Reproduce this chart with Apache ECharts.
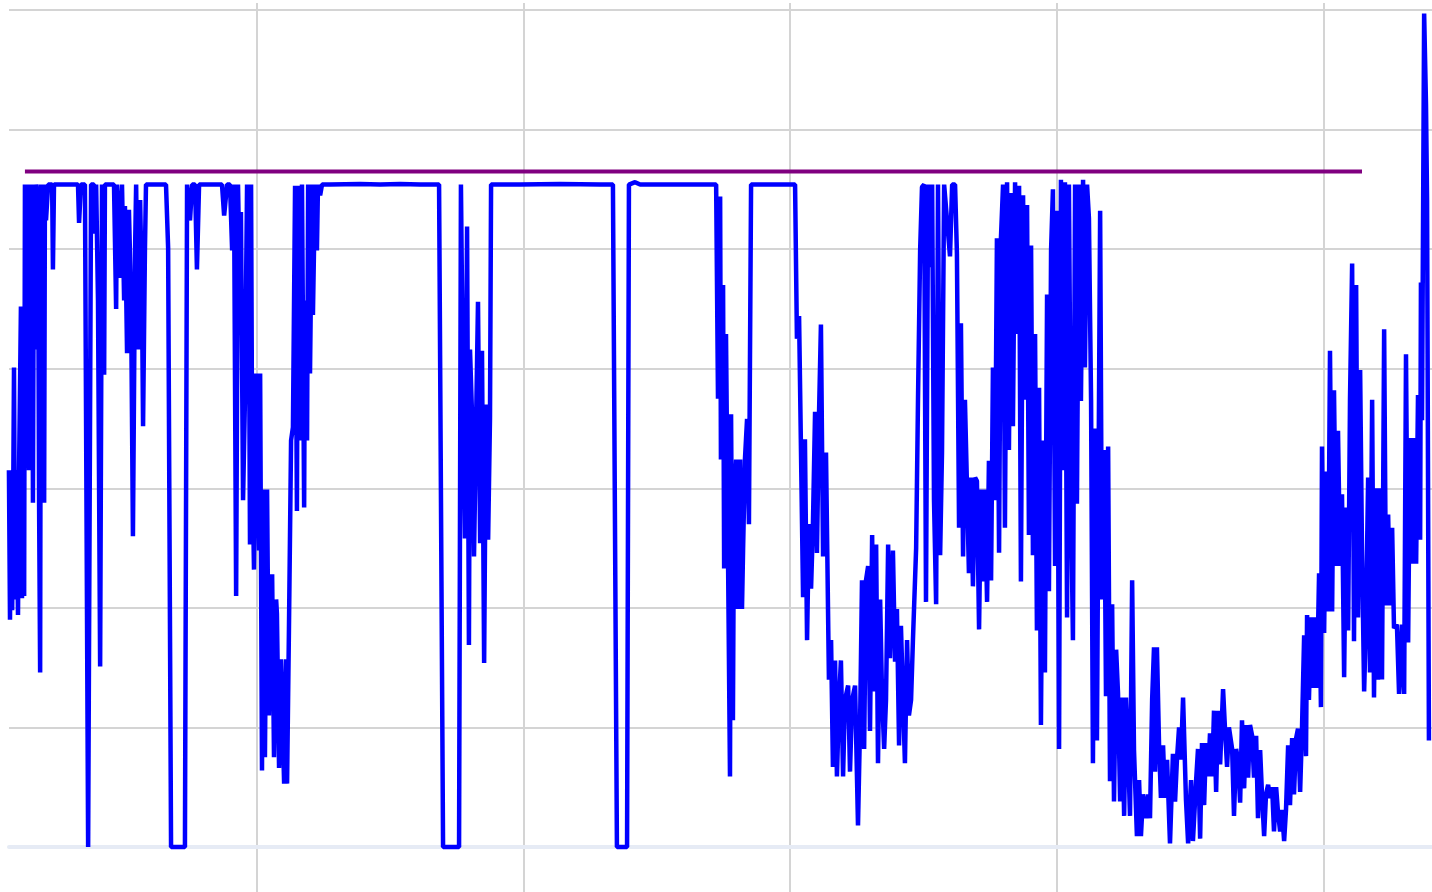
<!DOCTYPE html>
<html>
<head>
<meta charset="utf-8">
<script src="https://cdn.jsdelivr.net/npm/echarts@6/dist/echarts.min.js"></script>
<style>
html,body{margin:0;padding:0;background:#ffffff;}
#chart{width:1432px;height:892px;}
</style>
</head>
<body>
<div id="chart"></div>
<script>
// Axis scales (data units)
var yTicks = {min: 0, max: 70, interval: 10};
var xRange = {min: 3.75, max: 540.75, step: 100};
var xDataMin = 7.125;

// Threshold level (purple line)
var thresholdX = [13.1, 514.5];
var thresholdY = 56.5;

// Signal as [x, y] pairs, split by x range
var signalA = [[7.1,31.5],[7.5,19.0],[7.9,31.5],[8.3,19.8],[8.6,25.7],[9.0,40.1],[9.4,20.7],[9.8,31.5],[10.1,26.3],[10.5,19.4],[10.9,31.5],[11.6,45.2],[12.0,20.8],[12.4,35.7],[12.8,21.0],[13.1,55.4],[13.5,44.9],[13.9,31.7],[14.3,55.4],[14.6,31.5],[15.0,55.4],[15.4,43.2],[15.8,55.4],[16.1,28.8],[16.5,55.4],[16.9,41.6],[17.3,55.4],[18.0,54.1],[18.4,29.0],[18.8,14.6],[19.1,55.4],[19.5,45.7],[19.9,55.4],[20.3,28.8],[20.6,55.4],[21.0,52.4],[21.8,55.4],[23.3,55.4],[23.6,48.3],[24.0,55.4],[33.0,55.4],[33.4,52.2],[34.1,55.4],[35.6,55.4],[36.8,0],[37.9,55.4],[39.0,55.4],[39.4,51.3],[39.8,55.4],[40.5,45.7],[41.3,15.1],[42.0,55.4],[42.8,39.5],[43.1,55.4],[46.5,55.4],[47.3,45.0],[47.6,55.4],[48.4,52.4],[48.8,47.6],[49.5,55.4],[50.3,45.7],[50.6,53.6],[51.4,41.3],[52.1,53.3],[52.9,45.7],[53.6,26.0],[54.4,49.9],[54.8,55.4],[55.5,41.6],[56.3,54.1],[57.0,45.7],[57.4,35.2],[58.1,49.9],[58.5,55.4],[66.0,55.4],[66.8,50.1],[67.9,0],[73.1,0],[73.9,55.4],[75.0,52.4],[75.8,55.4],[76.9,55.4],[77.6,48.3],[78.4,55.4],[87.0,55.4],[87.8,52.8],[88.9,55.4],[90.0,55.4],[90.8,49.9],[91.5,55.4],[92.3,21.0],[93.0,55.4],[93.8,45.7],[94.1,53.1],[94.9,29.0],[95.6,37.4],[96.4,55.4],[97.1,45.7],[97.5,25.3],[97.9,55.4],[98.3,33.0],[99.0,23.2],[99.8,39.6]];

var signalB = [[100.1,36.8],[100.9,24.8],[101.3,39.6],[102.0,6.4],[102.4,29.9],[103.1,7.5],[103.9,29.9],[104.6,11.0],[105.4,20.7],[105.8,22.8],[106.5,7.5],[107.3,20.7],[107.6,19.5],[108.4,6.6],[109.1,15.7],[109.5,12.3],[110.3,5.3],[111.0,15.7],[111.4,5.3],[112.1,18.1],[112.9,34.0],[113.6,35.1],[114.4,55.3],[115.1,28.1],[115.5,55.3],[116.3,34.0],[117.0,55.4],[117.8,28.4],[118.1,45.7],[118.9,34.0],[119.3,55.4],[120.0,39.6],[120.8,55.4],[121.1,44.5],[121.9,55.4],[122.6,49.9],[123.0,55.4],[123.8,54.5],[124.5,55.4],[127.5,55.4],[138.8,55.45],[146.3,55.4],[153.8,55.45],[161.3,55.4],[168.4,55.4],[169.9,0],[175.9,0],[176.6,55.4],[177.4,37.4],[178.1,25.8],[178.9,51.9],[179.6,16.9],[180.0,41.6],[180.8,35.9],[181.5,24.3],[182.3,35.7],[183.0,45.6],[183.8,25.4],[184.5,41.5],[185.3,15.4],[186.0,37.0],[186.8,25.7],[187.5,35.9],[187.9,55.4],[198.8,55.4]];

var signalC = [[213.8,55.45],[228.8,55.4],[233.6,55.4],[235.1,0],[238.9,0],[239.6,55.4],[241.9,55.6],[243.8,55.4],[258.8,55.4],[272.3,55.4],[273.0,37.5],[273.8,54.4],[274.1,32.4],[274.9,47.0],[275.3,23.3],[276.0,42.9],[276.4,33.2],[277.5,5.9],[277.9,36.2],[278.6,10.6],[279.0,29.0],[279.8,32.4],[280.5,19.9],[281.3,32.4],[282.0,19.9],[282.4,24.8],[283.1,32.4],[283.9,35.8],[284.6,27.0],[285.4,55.4],[292.5,55.4]];

var signalD = [[301.9,55.4],[302.6,42.5],[303.4,44.4],[304.9,20.9],[305.6,34.1],[306.4,17.3],[307.1,27.0],[307.9,21.6],[308.6,27.0],[309.4,36.4],[310.1,24.6],[310.9,36.4],[311.6,43.7],[312.4,24.3],[313.5,33.0],[314.6,14.0],[315.4,17.3],[316.1,6.7],[316.9,15.6],[317.6,5.9],[318.4,12.3],[319.1,15.6],[319.9,5.9],[320.6,12.3],[321.8,13.5],[322.5,6.3],[323.3,12.3],[324.4,13.5],[325.5,1.8],[326.3,10.6],[327.0,22.3],[327.8,8.2],[328.5,22.3],[329.3,23.5],[330.0,9.7],[330.8,26.1],[331.5,13.0],[332.3,25.3],[333.0,7.0],[333.8,20.7],[334.5,12.9],[335.3,8.2],[336.0,12.3],[336.8,25.3],[337.5,15.8],[338.6,24.8],[339.4,15.5],[340.1,19.9],[340.9,8.5],[341.6,18.5],[342.4,12.3],[343.1,7.0],[343.9,17.3],[344.6,11.0],[345.4,12.3],[346.1,17.3],[347.3,25.0],[348.0,37.4],[348.8,49.9],[349.5,55.2],[350.3,55.4],[351.0,20.5],[351.8,55.4],[352.5,48.5],[353.3,55.4],[354.0,29.0],[354.8,20.3],[355.5,55.4],[356.3,24.4],[357.0,33.0],[357.8,55.4],[358.5,55.4],[360.0,49.4],[360.8,55.4],[361.9,55.4],[362.6,49.6],[363.4,26.7],[364.1,43.8],[364.9,24.3],[365.6,37.4],[366.4,29.9],[367.1,22.9],[367.9,30.9],[368.6,21.8],[369.4,30.9],[370.1,30.6],[370.9,18.2],[371.6,29.9],[372.4,22.2],[373.1,29.9],[373.9,20.5],[374.6,32.3],[375.4,22.3],[376.1,40.1],[376.9,29.0],[377.6,50.9],[378.4,24.6],[379.1,50.9],[379.9,55.4],[380.6,26.7],[381.4,55.6],[382.1,33.2],[382.9,54.7],[383.6,35.2],[384.4,55.6],[385.1,42.9],[385.9,55.3],[386.6,22.2],[387.4,54.5],[388.1,37.4],[388.9,53.7],[389.6,26.1],[390.4,50.3],[391.1,24.4],[391.9,42.9],[392.6,18.1],[393.4,38.4],[394.1,10.2],[394.9,34.0],[395.6,14.6],[396.4,46.2],[397.1,21.4],[397.9,49.9],[398.6,55.0],[399.4,23.5]];

var signalE = [[400.1,53.2],[400.9,8.2],[401.6,55.8],[402.4,31.5],[403.1,55.6],[403.9,19.2],[404.6,55.4],[405.4,29.0],[406.1,17.3],[406.9,55.4],[407.6,28.7],[408.4,55.4],[409.1,37.3],[409.9,55.8],[410.6,40.1],[411.4,55.4],[412.1,52.6],[412.9,37.4],[413.6,7.0],[414.4,35.0],[415.1,8.9],[416.3,53.2],[417.0,20.7],[417.8,33.2],[418.5,12.6],[419.3,33.5],[420.0,5.5],[420.8,20.3],[421.5,3.8],[422.3,16.5],[423.0,12.9],[423.8,3.8],[424.5,12.5],[425.3,2.6],[426.0,12.5],[426.8,7.8],[427.5,2.6],[428.3,22.3],[429.0,8.1],[430.1,0.9],[430.9,5.6],[431.6,0.9],[432.4,4.4],[433.5,2.4],[434.3,4.4],[435.0,2.4],[435.8,12.3],[436.5,16.7],[436.9,6.3],[437.6,16.7],[438.4,8.5],[439.1,4.1],[439.9,8.5],[440.6,4.1],[441.4,7.3],[442.5,0.3],[443.6,7.8],[444.4,3.8],[445.1,7.3],[445.9,10.0],[446.6,7.3],[447.4,12.5],[448.5,3.9],[449.3,0.3],[450.4,5.6],[451.1,0.5],[452.3,5.6],[453.0,8.2],[453.8,0.7],[454.5,8.7],[455.3,3.5],[456.0,8.7],[456.8,5.9],[457.5,9.5],[458.3,5.9],[459.0,11.4],[459.8,4.6],[460.5,11.4],[461.3,6.9],[462.4,13.2],[463.1,10.0],[463.9,6.7],[464.6,10.0],[465.8,8.2],[466.5,2.6],[467.3,8.2],[468.0,7.3],[468.8,3.7],[469.5,10.6],[470.3,4.9],[471.0,10.2],[471.8,5.8],[472.5,10.2],[473.3,9.3],[474.0,5.8],[474.8,9.3],[475.5,2.4],[476.3,8.1],[477.0,4.4],[477.8,0.9],[478.5,4.4],[479.3,5.2],[480.0,4.1],[480.8,5.0],[481.5,1.3],[482.3,5.0],[483.0,2.9],[483.8,1.3],[484.5,3.1],[485.3,0.5],[486.0,3.1],[486.8,8.5],[487.5,3.5],[488.3,9.1],[489.0,4.4],[489.8,9.1],[490.5,9.9],[491.3,4.6],[492.0,9.9],[492.8,17.7],[493.5,7.6],[493.9,19.4],[494.6,12.3],[495.4,19.2],[496.1,13.3],[496.9,19.2],[497.6,13.3],[498.4,22.9],[499.1,11.7],[499.5,33.5],[500.3,17.9],[501.0,31.4],[501.8,19.7],[502.5,41.5],[503.3,19.7],[504.0,38.2],[504.8,23.5],[505.5,34.8],[506.3,23.5],[507.0,29.5],[507.8,14.2],[508.5,28.4],[509.3,18.1],[510.0,37.4],[510.8,48.8],[511.5,17.2],[512.3,47.0],[513.0,19.2],[513.8,39.9],[514.5,24.8],[515.3,13.0],[516.0,19.0],[516.8,30.9],[517.5,14.6],[518.3,37.4],[519.0,12.5],[519.8,30.0],[520.5,14.0],[521.3,30.0],[522.0,14.0],[522.8,43.3],[523.5,20.2],[524.3,27.8],[525.0,20.2],[525.8,26.7],[526.5,18.3],[527.6,18.6],[528.4,12.8],[529.5,18.6],[530.3,12.8],[531.0,41.2],[531.8,17.1],[532.5,34.2],[533.3,23.7],[534.0,34.2],[534.8,23.7],[535.5,37.8],[536.3,25.7],[536.6,47.2],[537.0,35.7],[537.8,69.7],[538.5,62.1],[538.9,54.1],[539.6,8.9]];

var signal = signalA.concat(signalB, signalC, signalD, signalE);
var threshold = thresholdX.map(function (x) { return [x, thresholdY]; });

var gridColor = '#d4d4d4';
var chart = echarts.init(document.getElementById('chart'), null, {renderer: 'canvas'});
chart.setOption({
  animation: false,
  backgroundColor: '#ffffff',
  grid: [
    {left: 9, right: 0, top: 10, bottom: 45},
    {left: 0, right: 0, top: 3, bottom: 0}
  ],
  xAxis: [
    {
      gridIndex: 0, type: 'value', min: xDataMin, max: xRange.max,
      axisLine: {show: true, onZero: true, lineStyle: {color: '#e6ebf5', width: 4}},
      axisTick: {show: false}, axisLabel: {show: false}, splitLine: {show: false}
    },
    {
      gridIndex: 1, type: 'value', min: xRange.min, max: xRange.max,
      splitNumber: 5, minInterval: xRange.step, maxInterval: xRange.step,
      axisLine: {show: false}, axisTick: {show: false}, axisLabel: {show: false},
      splitLine: {show: true, showMinLine: false, showMaxLine: false, lineStyle: {color: gridColor, width: 2}}
    }
  ],
  yAxis: [
    {
      gridIndex: 0, type: 'value', min: yTicks.min, max: yTicks.max, interval: yTicks.interval,
      axisLine: {show: false}, axisTick: {show: false}, axisLabel: {show: false},
      splitLine: {show: true, lineStyle: {color: gridColor, width: 2}}
    },
    {gridIndex: 1, type: 'value', min: 0, max: 1, show: false}
  ],
  series: [
    {
      type: 'line', xAxisIndex: 0, yAxisIndex: 0, data: threshold,
      showSymbol: false, symbol: 'none', silent: true, clip: false,
      lineStyle: {color: '#800080', width: 4}
    },
    {
      type: 'line', xAxisIndex: 0, yAxisIndex: 0, data: signal,
      showSymbol: false, symbol: 'none', silent: true, clip: false, sampling: null,
      lineStyle: {color: '#0000ff', width: 4.5, join: 'bevel'}
    }
  ]
});
</script>
</body>
</html>
